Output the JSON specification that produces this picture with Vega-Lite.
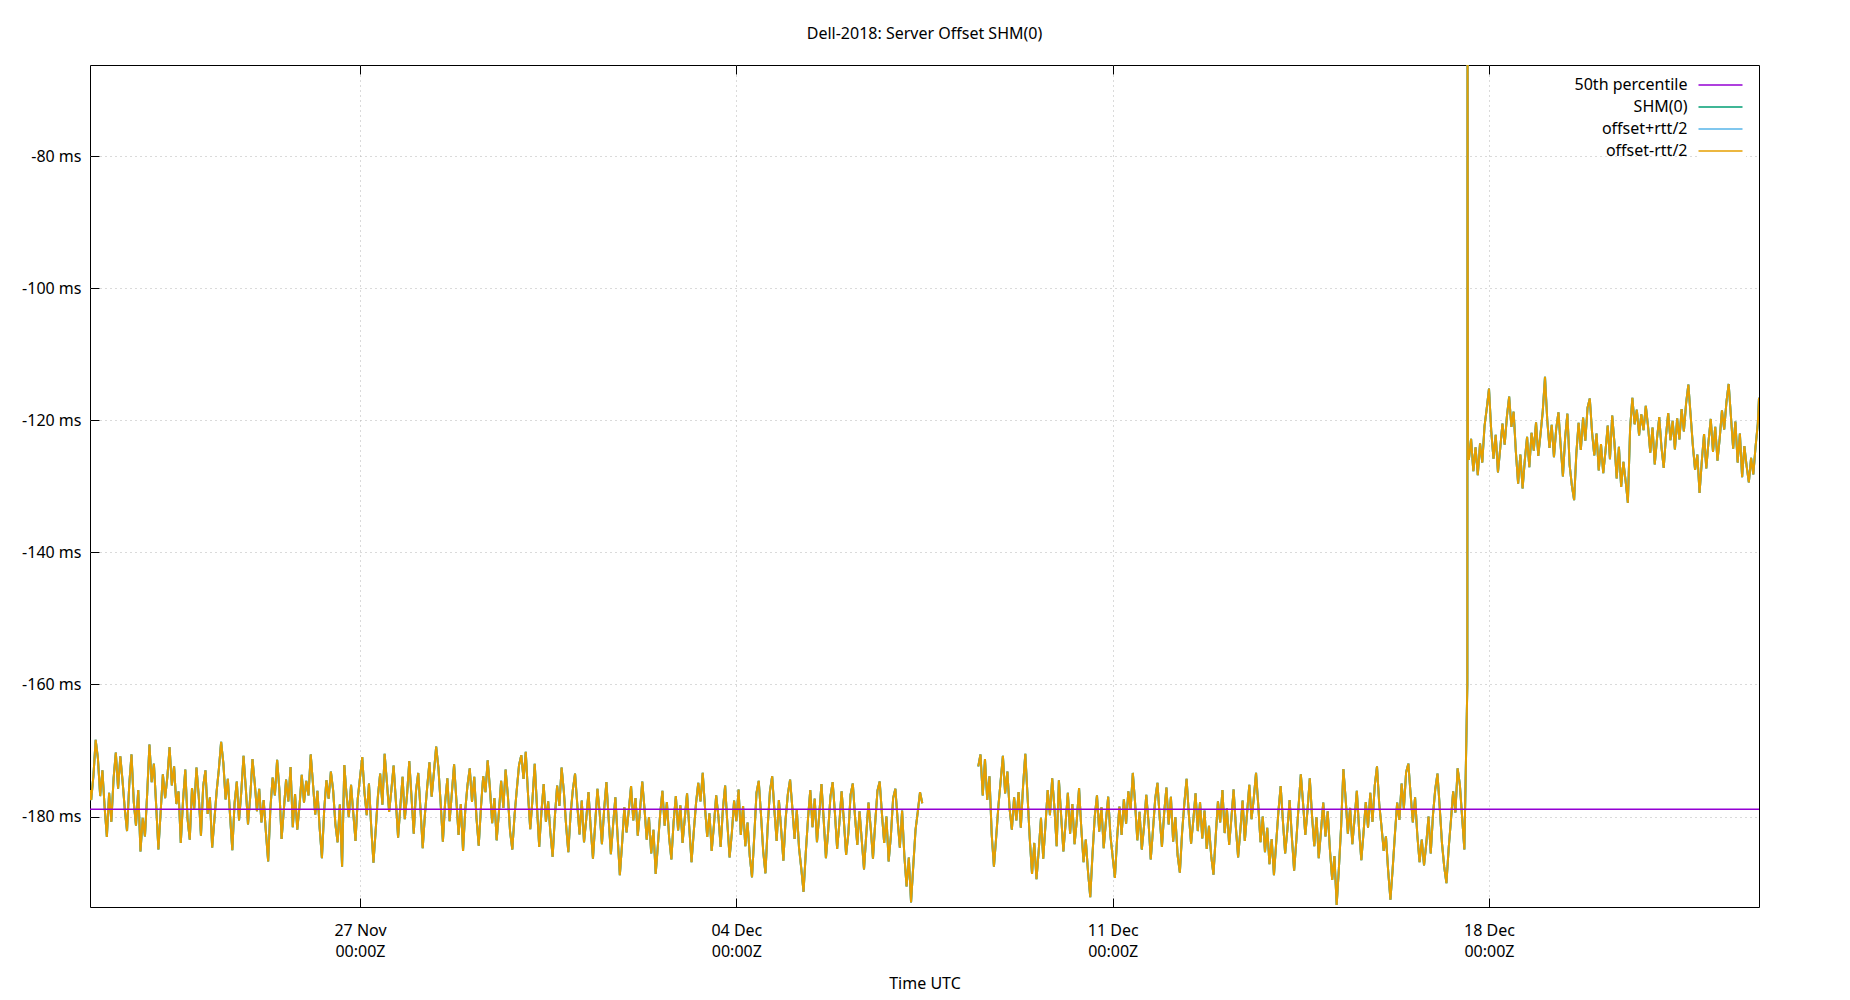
{
"$schema": "https://vega.github.io/schema/vega-lite/v6.json",
"width": 1669, "height": 842,
"autosize": "none",
"padding": {"left": 90, "top": 65, "right": 91, "bottom": 93},
"background": "white",
"title": {"text": "Dell-2018: Server Offset SHM(0)", "font": "Noto Sans", "fontSize": 16, "fontWeight": "normal", "color": "black", "anchor": "middle", "offset": 23},
"config": {
  "view": {"stroke": "black", "strokeWidth": 1},
  "font": "Noto Sans",
  "legend": {"orient": "none", "legendX": 1607, "legendY": 12, "symbolType": "M-4,0H4", "symbolSize": 121, "symbolOffset": 15.5, "symbolStrokeWidth": 1.5, "rowPadding": 6, "labelAlign": "right", "labelOffset": -41, "labelFont": "Noto Sans", "labelFontSize": 16, "labelColor": "black", "labelLimit": 0, "padding": 0, "fillColor": "white"}
},
"data": {"format": {"parse": {"t": "utc:'%y%m%d%H%M'"}}, "values": [
{"t":"1811212328","v":-176.0},
{"t":"1811220000","v":-177.5},{"t":"1811220100","v":-173.8},{"t":"1811220200","v":-168.4},{"t":"1811220300","v":-171.2},{"t":"1811220400","v":-176.9},{"t":"1811220500","v":-173.0},{"t":"1811220600","v":-178.6},{"t":"1811220700","v":-183.1},{"t":"1811220800","v":-176.4},{"t":"1811220900","v":-180.8},{"t":"1811221000","v":-174.2},{"t":"1811221100","v":-170.3},{"t":"1811221200","v":-175.8},{"t":"1811221300","v":-170.9},{"t":"1811221400","v":-174.6},{"t":"1811221500","v":-178.9},{"t":"1811221600","v":-182.2},{"t":"1811221700","v":-175.1},{"t":"1811221800","v":-170.6},{"t":"1811221900","v":-177.8},{"t":"1811222000","v":-181.4},{"t":"1811222100","v":-176.0},{"t":"1811222200","v":-185.3},{"t":"1811222300","v":-180.2},
{"t":"1811230000","v":-183.0},{"t":"1811230100","v":-176.5},{"t":"1811230200","v":-169.1},{"t":"1811230300","v":-174.8},{"t":"1811230400","v":-172.0},{"t":"1811230500","v":-178.3},{"t":"1811230600","v":-185.0},{"t":"1811230700","v":-179.4},{"t":"1811230800","v":-173.6},{"t":"1811230900","v":-177.2},{"t":"1811231000","v":-174.0},{"t":"1811231100","v":-169.5},{"t":"1811231200","v":-175.3},{"t":"1811231300","v":-172.4},{"t":"1811231400","v":-178.1},{"t":"1811231500","v":-176.2},{"t":"1811231600","v":-184.0},{"t":"1811231700","v":-177.6},{"t":"1811231800","v":-172.9},{"t":"1811231900","v":-180.3},{"t":"1811232000","v":-183.5},{"t":"1811232100","v":-175.7},{"t":"1811232200","v":-178.8},{"t":"1811232300","v":-172.6},
{"t":"1811240000","v":-176.9},{"t":"1811240100","v":-182.9},{"t":"1811240200","v":-175.4},{"t":"1811240300","v":-173.0},{"t":"1811240400","v":-179.6},{"t":"1811240500","v":-177.1},{"t":"1811240600","v":-184.7},{"t":"1811240700","v":-180.5},{"t":"1811240800","v":-176.2},{"t":"1811240900","v":-172.8},{"t":"1811241000","v":-168.7},{"t":"1811241100","v":-171.9},{"t":"1811241200","v":-177.4},{"t":"1811241300","v":-174.3},{"t":"1811241400","v":-179.9},{"t":"1811241500","v":-185.1},{"t":"1811241600","v":-178.0},{"t":"1811241700","v":-174.7},{"t":"1811241800","v":-180.6},{"t":"1811241900","v":-176.3},{"t":"1811242000","v":-170.8},{"t":"1811242100","v":-175.6},{"t":"1811242200","v":-181.2},{"t":"1811242300","v":-177.0},
{"t":"1811250000","v":-171.3},{"t":"1811250100","v":-174.9},{"t":"1811250200","v":-179.2},{"t":"1811250300","v":-175.8},{"t":"1811250400","v":-180.9},{"t":"1811250500","v":-177.5},{"t":"1811250600","v":-182.4},{"t":"1811250700","v":-186.8},{"t":"1811250800","v":-178.7},{"t":"1811250900","v":-174.1},{"t":"1811251000","v":-176.8},{"t":"1811251100","v":-171.4},{"t":"1811251200","v":-175.9},{"t":"1811251300","v":-183.4},{"t":"1811251400","v":-179.0},{"t":"1811251500","v":-174.4},{"t":"1811251600","v":-177.7},{"t":"1811251700","v":-172.5},{"t":"1811251800","v":-181.6},{"t":"1811251900","v":-176.6},{"t":"1811252000","v":-182.0},{"t":"1811252100","v":-178.4},{"t":"1811252200","v":-173.7},{"t":"1811252300","v":-177.9},
{"t":"1811260000","v":-174.6},{"t":"1811260100","v":-176.8},{"t":"1811260200","v":-170.6},{"t":"1811260300","v":-175.0},{"t":"1811260400","v":-179.7},{"t":"1811260500","v":-176.1},{"t":"1811260600","v":-181.8},{"t":"1811260700","v":-186.3},{"t":"1811260800","v":-179.1},{"t":"1811260900","v":-174.5},{"t":"1811261000","v":-177.3},{"t":"1811261100","v":-173.2},{"t":"1811261200","v":-176.0},{"t":"1811261300","v":-181.1},{"t":"1811261400","v":-183.9},{"t":"1811261500","v":-178.2},{"t":"1811261600","v":-187.6},{"t":"1811261700","v":-172.2},{"t":"1811261800","v":-176.7},{"t":"1811261900","v":-180.1},{"t":"1811262000","v":-175.2},{"t":"1811262100","v":-179.5},{"t":"1811262200","v":-183.7},{"t":"1811262300","v":-177.3},
{"t":"1811270000","v":-174.1},{"t":"1811270100","v":-171.0},{"t":"1811270200","v":-176.4},{"t":"1811270300","v":-179.8},{"t":"1811270400","v":-175.0},{"t":"1811270500","v":-181.5},{"t":"1811270600","v":-187.0},{"t":"1811270700","v":-182.1},{"t":"1811270800","v":-176.9},{"t":"1811270900","v":-173.5},{"t":"1811271000","v":-178.2},{"t":"1811271100","v":-170.5},{"t":"1811271200","v":-174.8},{"t":"1811271300","v":-179.3},{"t":"1811271400","v":-176.0},{"t":"1811271500","v":-172.3},{"t":"1811271600","v":-177.6},{"t":"1811271700","v":-183.2},{"t":"1811271800","v":-178.5},{"t":"1811271900","v":-174.0},{"t":"1811272000","v":-180.4},{"t":"1811272100","v":-176.7},{"t":"1811272200","v":-171.6},{"t":"1811272300","v":-177.1},
{"t":"1811280000","v":-182.6},{"t":"1811280100","v":-176.1},{"t":"1811280200","v":-173.4},{"t":"1811280300","v":-178.9},{"t":"1811280400","v":-184.8},{"t":"1811280500","v":-179.6},{"t":"1811280600","v":-175.5},{"t":"1811280700","v":-171.8},{"t":"1811280800","v":-177.0},{"t":"1811280900","v":-173.3},{"t":"1811281000","v":-169.4},{"t":"1811281100","v":-172.6},{"t":"1811281200","v":-178.0},{"t":"1811281300","v":-183.8},{"t":"1811281400","v":-177.9},{"t":"1811281500","v":-174.2},{"t":"1811281600","v":-180.7},{"t":"1811281700","v":-176.5},{"t":"1811281800","v":-172.1},{"t":"1811281900","v":-177.4},{"t":"1811282000","v":-182.8},{"t":"1811282100","v":-178.1},{"t":"1811282200","v":-185.2},{"t":"1811282300","v":-179.0},
{"t":"1811290000","v":-175.2},{"t":"1811290100","v":-172.7},{"t":"1811290200","v":-177.8},{"t":"1811290300","v":-174.0},{"t":"1811290400","v":-180.2},{"t":"1811290500","v":-184.4},{"t":"1811290600","v":-178.6},{"t":"1811290700","v":-173.9},{"t":"1811290800","v":-176.3},{"t":"1811290900","v":-171.5},{"t":"1811291000","v":-175.7},{"t":"1811291100","v":-181.0},{"t":"1811291200","v":-177.2},{"t":"1811291300","v":-183.6},{"t":"1811291400","v":-179.4},{"t":"1811291500","v":-174.6},{"t":"1811291600","v":-178.7},{"t":"1811291700","v":-172.9},{"t":"1811291800","v":-176.8},{"t":"1811291900","v":-182.3},{"t":"1811292000","v":-185.0},{"t":"1811292100","v":-179.8},{"t":"1811292200","v":-175.9},{"t":"1811292300","v":-172.2},
{"t":"1811300000","v":-170.7},{"t":"1811300100","v":-174.3},{"t":"1811300200","v":-170.2},{"t":"1811300300","v":-176.6},{"t":"1811300400","v":-181.9},{"t":"1811300500","v":-177.4},{"t":"1811300600","v":-172.0},{"t":"1811300700","v":-178.5},{"t":"1811300800","v":-184.6},{"t":"1811300900","v":-179.3},{"t":"1811301000","v":-175.1},{"t":"1811301100","v":-180.8},{"t":"1811301200","v":-177.7},{"t":"1811301300","v":-182.5},{"t":"1811301400","v":-186.1},{"t":"1811301500","v":-180.0},{"t":"1811301600","v":-175.3},{"t":"1811301700","v":-178.4},{"t":"1811301800","v":-172.6},{"t":"1811301900","v":-176.2},{"t":"1811302000","v":-181.3},{"t":"1811302100","v":-185.4},{"t":"1811302200","v":-179.7},{"t":"1811302300","v":-176.0},
{"t":"1812010000","v":-173.5},{"t":"1812010100","v":-178.2},{"t":"1812010200","v":-182.7},{"t":"1812010300","v":-177.6},{"t":"1812010400","v":-183.9},{"t":"1812010500","v":-180.4},{"t":"1812010600","v":-176.3},{"t":"1812010700","v":-181.8},{"t":"1812010800","v":-186.4},{"t":"1812010900","v":-181.0},{"t":"1812011000","v":-175.8},{"t":"1812011100","v":-179.5},{"t":"1812011200","v":-184.2},{"t":"1812011300","v":-178.9},{"t":"1812011400","v":-174.8},{"t":"1812011500","v":-180.3},{"t":"1812011600","v":-185.7},{"t":"1812011700","v":-181.2},{"t":"1812011800","v":-177.1},{"t":"1812011900","v":-183.0},{"t":"1812012000","v":-188.9},{"t":"1812012100","v":-184.1},{"t":"1812012200","v":-178.6},{"t":"1812012300","v":-182.4},
{"t":"1812020000","v":-179.0},{"t":"1812020100","v":-175.4},{"t":"1812020200","v":-180.6},{"t":"1812020300","v":-177.2},{"t":"1812020400","v":-182.9},{"t":"1812020500","v":-179.1},{"t":"1812020600","v":-174.7},{"t":"1812020700","v":-178.8},{"t":"1812020800","v":-183.5},{"t":"1812020900","v":-180.1},{"t":"1812021000","v":-185.6},{"t":"1812021100","v":-182.0},{"t":"1812021200","v":-188.7},{"t":"1812021300","v":-184.3},{"t":"1812021400","v":-179.6},{"t":"1812021500","v":-176.1},{"t":"1812021600","v":-181.4},{"t":"1812021700","v":-177.8},{"t":"1812021800","v":-183.2},{"t":"1812021900","v":-186.5},{"t":"1812022000","v":-180.8},{"t":"1812022100","v":-176.9},{"t":"1812022200","v":-182.1},{"t":"1812022300","v":-178.3},
{"t":"1812030000","v":-184.0},{"t":"1812030100","v":-180.2},{"t":"1812030200","v":-176.5},{"t":"1812030300","v":-181.7},{"t":"1812030400","v":-186.9},{"t":"1812030500","v":-182.3},{"t":"1812030600","v":-178.0},{"t":"1812030700","v":-174.9},{"t":"1812030800","v":-177.7},{"t":"1812030900","v":-173.4},{"t":"1812031000","v":-178.6},{"t":"1812031100","v":-183.1},{"t":"1812031200","v":-179.5},{"t":"1812031300","v":-185.2},{"t":"1812031400","v":-181.3},{"t":"1812031500","v":-176.8},{"t":"1812031600","v":-180.0},{"t":"1812031700","v":-184.6},{"t":"1812031800","v":-178.9},{"t":"1812031900","v":-175.3},{"t":"1812032000","v":-181.1},{"t":"1812032100","v":-186.2},{"t":"1812032200","v":-182.5},{"t":"1812032300","v":-177.6},
{"t":"1812040000","v":-180.7},{"t":"1812040100","v":-175.9},{"t":"1812040200","v":-182.8},{"t":"1812040300","v":-178.4},{"t":"1812040400","v":-184.5},{"t":"1812040500","v":-180.9},{"t":"1812040600","v":-186.0},{"t":"1812040700","v":-189.2},{"t":"1812040800","v":-183.0},{"t":"1812040900","v":-176.4},{"t":"1812041000","v":-174.6},{"t":"1812041100","v":-179.7},{"t":"1812041200","v":-185.3},{"t":"1812041300","v":-188.6},{"t":"1812041400","v":-181.5},{"t":"1812041500","v":-176.2},{"t":"1812041600","v":-173.9},{"t":"1812041700","v":-179.1},{"t":"1812041800","v":-183.7},{"t":"1812041900","v":-177.5},{"t":"1812042000","v":-181.9},{"t":"1812042100","v":-186.7},{"t":"1812042200","v":-180.4},{"t":"1812042300","v":-176.6},
{"t":"1812050000","v":-174.4},{"t":"1812050100","v":-178.7},{"t":"1812050200","v":-183.4},{"t":"1812050300","v":-179.0},{"t":"1812050400","v":-184.8},{"t":"1812050500","v":-187.9},{"t":"1812050600","v":-191.4},{"t":"1812050700","v":-185.5},{"t":"1812050800","v":-180.3},{"t":"1812050900","v":-176.0},{"t":"1812051000","v":-181.6},{"t":"1812051100","v":-177.3},{"t":"1812051200","v":-183.9},{"t":"1812051300","v":-179.8},{"t":"1812051400","v":-175.1},{"t":"1812051500","v":-180.5},{"t":"1812051600","v":-186.3},{"t":"1812051700","v":-182.2},{"t":"1812051800","v":-177.0},{"t":"1812051900","v":-174.8},{"t":"1812052000","v":-179.4},{"t":"1812052100","v":-184.9},{"t":"1812052200","v":-181.0},{"t":"1812052300","v":-176.2},
{"t":"1812060000","v":-180.6},{"t":"1812060100","v":-185.8},{"t":"1812060200","v":-182.6},{"t":"1812060300","v":-176.7},{"t":"1812060400","v":-175.0},{"t":"1812060500","v":-180.1},{"t":"1812060600","v":-184.3},{"t":"1812060700","v":-179.2},{"t":"1812060800","v":-183.6},{"t":"1812060900","v":-188.0},{"t":"1812061000","v":-182.7},{"t":"1812061100","v":-177.9},{"t":"1812061200","v":-181.8},{"t":"1812061300","v":-186.4},{"t":"1812061400","v":-180.9},{"t":"1812061500","v":-176.1},{"t":"1812061600","v":-174.7},{"t":"1812061700","v":-179.6},{"t":"1812061800","v":-184.0},{"t":"1812061900","v":-180.0},{"t":"1812062000","v":-186.8},{"t":"1812062100","v":-182.9},{"t":"1812062200","v":-177.2},{"t":"1812062300","v":-175.8},
{"t":"1812070000","v":-180.5},{"t":"1812070100","v":-184.7},{"t":"1812070200","v":-179.1},{"t":"1812070300","v":-185.9},{"t":"1812070400","v":-190.6},{"t":"1812070500","v":-186.2},{"t":"1812070600","v":-193.0},{"t":"1812070700","v":-187.4},{"t":"1812070800","v":-182.0},{"t":"1812070900","v":-179.3},{"t":"1812071000","v":-176.3},{"t":"1812071100","v":-178.0},
{"t":"1812072300","v":null},
{"t":"1812081200","v":-172.4},{"t":"1812081300","v":-170.6},{"t":"1812081400","v":-176.8},{"t":"1812081500","v":-171.3},{"t":"1812081600","v":-177.5},{"t":"1812081700","v":-173.9},{"t":"1812081800","v":-182.7},{"t":"1812081900","v":-187.6},{"t":"1812082000","v":-183.1},{"t":"1812082100","v":-178.4},{"t":"1812082200","v":-174.6},{"t":"1812082300","v":-170.8},
{"t":"1812090000","v":-176.5},{"t":"1812090100","v":-173.2},{"t":"1812090200","v":-178.9},{"t":"1812090300","v":-182.0},{"t":"1812090400","v":-177.1},{"t":"1812090500","v":-180.6},{"t":"1812090600","v":-176.3},{"t":"1812090700","v":-181.7},{"t":"1812090800","v":-175.4},{"t":"1812090900","v":-170.5},{"t":"1812091000","v":-176.9},{"t":"1812091100","v":-183.4},{"t":"1812091200","v":-188.7},{"t":"1812091300","v":-184.0},{"t":"1812091400","v":-189.5},{"t":"1812091500","v":-185.1},{"t":"1812091600","v":-180.2},{"t":"1812091700","v":-186.4},{"t":"1812091800","v":-181.3},{"t":"1812091900","v":-176.0},{"t":"1812092000","v":-179.8},{"t":"1812092100","v":-174.2},{"t":"1812092200","v":-178.7},{"t":"1812092300","v":-184.5},
{"t":"1812100000","v":-174.5},{"t":"1812100100","v":-179.9},{"t":"1812100200","v":-185.3},{"t":"1812100300","v":-181.0},{"t":"1812100400","v":-176.4},{"t":"1812100500","v":-182.6},{"t":"1812100600","v":-178.1},{"t":"1812100700","v":-184.2},{"t":"1812100800","v":-180.5},{"t":"1812100900","v":-175.7},{"t":"1812101000","v":-181.8},{"t":"1812101100","v":-186.9},{"t":"1812101200","v":-183.5},{"t":"1812101300","v":-188.4},{"t":"1812101400","v":-192.2},{"t":"1812101500","v":-185.7},{"t":"1812101600","v":-180.0},{"t":"1812101700","v":-176.8},{"t":"1812101800","v":-182.3},{"t":"1812101900","v":-178.6},{"t":"1812102000","v":-184.8},{"t":"1812102100","v":-180.7},{"t":"1812102200","v":-177.0},{"t":"1812102300","v":-182.9},
{"t":"1812110000","v":-186.1},{"t":"1812110100","v":-189.3},{"t":"1812110200","v":-183.2},{"t":"1812110300","v":-178.5},{"t":"1812110400","v":-182.8},{"t":"1812110500","v":-177.4},{"t":"1812110600","v":-181.1},{"t":"1812110700","v":-176.2},{"t":"1812110800","v":-179.0},{"t":"1812110900","v":-173.4},{"t":"1812111000","v":-177.9},{"t":"1812111100","v":-183.6},{"t":"1812111200","v":-179.3},{"t":"1812111300","v":-185.0},{"t":"1812111400","v":-181.5},{"t":"1812111500","v":-176.7},{"t":"1812111600","v":-180.8},{"t":"1812111700","v":-186.5},{"t":"1812111800","v":-182.0},{"t":"1812111900","v":-177.3},{"t":"1812112000","v":-174.9},{"t":"1812112100","v":-180.2},{"t":"1812112200","v":-184.6},{"t":"1812112300","v":-179.4},
{"t":"1812120000","v":-175.6},{"t":"1812120100","v":-181.2},{"t":"1812120200","v":-177.0},{"t":"1812120300","v":-183.8},{"t":"1812120400","v":-180.1},{"t":"1812120500","v":-185.9},{"t":"1812120600","v":-188.5},{"t":"1812120700","v":-182.4},{"t":"1812120800","v":-178.0},{"t":"1812120900","v":-174.3},{"t":"1812121000","v":-179.6},{"t":"1812121100","v":-184.1},{"t":"1812121200","v":-180.6},{"t":"1812121300","v":-176.5},{"t":"1812121400","v":-182.2},{"t":"1812121500","v":-177.8},{"t":"1812121600","v":-183.3},{"t":"1812121700","v":-179.1},{"t":"1812121800","v":-184.9},{"t":"1812121900","v":-181.4},{"t":"1812122000","v":-186.0},{"t":"1812122100","v":-188.8},{"t":"1812122200","v":-183.0},{"t":"1812122300","v":-177.7},
{"t":"1812130000","v":-180.9},{"t":"1812130100","v":-176.0},{"t":"1812130200","v":-182.5},{"t":"1812130300","v":-178.8},{"t":"1812130400","v":-184.3},{"t":"1812130500","v":-180.3},{"t":"1812130600","v":-175.9},{"t":"1812130700","v":-181.6},{"t":"1812130800","v":-186.2},{"t":"1812130900","v":-182.1},{"t":"1812131000","v":-177.6},{"t":"1812131100","v":-183.7},{"t":"1812131200","v":-179.5},{"t":"1812131300","v":-175.2},{"t":"1812131400","v":-180.4},{"t":"1812131500","v":-177.2},{"t":"1812131600","v":-173.4},{"t":"1812131700","v":-178.3},{"t":"1812131800","v":-183.9},{"t":"1812131900","v":-180.0},{"t":"1812132000","v":-185.4},{"t":"1812132100","v":-181.7},{"t":"1812132200","v":-187.2},{"t":"1812132300","v":-183.4},
{"t":"1812140000","v":-188.9},{"t":"1812140100","v":-184.0},{"t":"1812140200","v":-179.2},{"t":"1812140300","v":-175.4},{"t":"1812140400","v":-180.7},{"t":"1812140500","v":-185.6},{"t":"1812140600","v":-182.0},{"t":"1812140700","v":-177.5},{"t":"1812140800","v":-183.1},{"t":"1812140900","v":-188.2},{"t":"1812141000","v":-183.6},{"t":"1812141100","v":-178.4},{"t":"1812141200","v":-173.6},{"t":"1812141300","v":-178.0},{"t":"1812141400","v":-182.8},{"t":"1812141500","v":-179.0},{"t":"1812141600","v":-174.2},{"t":"1812141700","v":-179.9},{"t":"1812141800","v":-184.5},{"t":"1812141900","v":-180.1},{"t":"1812142000","v":-186.3},{"t":"1812142100","v":-182.2},{"t":"1812142200","v":-177.9},{"t":"1812142300","v":-183.0},
{"t":"1812150000","v":-179.2},{"t":"1812150100","v":-185.1},{"t":"1812150200","v":-189.6},{"t":"1812150300","v":-186.0},{"t":"1812150400","v":-193.4},{"t":"1812150500","v":-187.8},{"t":"1812150600","v":-181.4},{"t":"1812150700","v":-172.8},{"t":"1812150800","v":-177.3},{"t":"1812150900","v":-182.6},{"t":"1812151000","v":-178.7},{"t":"1812151100","v":-184.2},{"t":"1812151200","v":-180.3},{"t":"1812151300","v":-176.1},{"t":"1812151400","v":-181.9},{"t":"1812151500","v":-186.6},{"t":"1812151600","v":-182.4},{"t":"1812151700","v":-177.8},{"t":"1812151800","v":-181.7},{"t":"1812151900","v":-176.4},{"t":"1812152000","v":-180.8},{"t":"1812152100","v":-175.3},{"t":"1812152200","v":-172.4},{"t":"1812152300","v":-178.1},
{"t":"1812160000","v":-181.5},{"t":"1812160100","v":-185.2},{"t":"1812160200","v":-183.0},{"t":"1812160300","v":-188.3},{"t":"1812160400","v":-192.6},{"t":"1812160500","v":-187.9},{"t":"1812160600","v":-182.7},{"t":"1812160700","v":-177.9},{"t":"1812160800","v":-180.5},{"t":"1812160900","v":-175.0},{"t":"1812161000","v":-178.8},{"t":"1812161100","v":-173.3},{"t":"1812161200","v":-172.0},{"t":"1812161300","v":-176.6},{"t":"1812161400","v":-180.9},{"t":"1812161500","v":-177.1},{"t":"1812161600","v":-182.8},{"t":"1812161700","v":-186.9},{"t":"1812161800","v":-183.5},{"t":"1812161900","v":-187.4},{"t":"1812162000","v":-184.1},{"t":"1812162100","v":-180.0},{"t":"1812162200","v":-185.6},{"t":"1812162300","v":-179.7},
{"t":"1812170000","v":-175.9},{"t":"1812170100","v":-173.5},{"t":"1812170200","v":-178.6},{"t":"1812170300","v":-184.0},{"t":"1812170400","v":-187.6},{"t":"1812170500","v":-190.1},{"t":"1812170600","v":-184.8},{"t":"1812170700","v":-180.6},{"t":"1812170800","v":-176.2},{"t":"1812170900","v":-179.4},{"t":"1812171000","v":-172.7},{"t":"1812171100","v":-175.2},{"t":"1812171200","v":-180.1},{"t":"1812171300","v":-185.0},
{"t":"1812171420","v":-160.0},{"t":"1812171425","v":-40.0},{"t":"1812171435","v":-124.6},
{"t":"1812171500","v":-126.0},{"t":"1812171600","v":-122.8},{"t":"1812171700","v":-127.7},{"t":"1812171800","v":-124.1},{"t":"1812171900","v":-128.3},{"t":"1812172000","v":-123.5},{"t":"1812172100","v":-126.4},{"t":"1812172200","v":-120.9},{"t":"1812172300","v":-118.2},
{"t":"1812180000","v":-115.2},{"t":"1812180100","v":-121.6},{"t":"1812180200","v":-125.8},{"t":"1812180300","v":-122.2},{"t":"1812180400","v":-127.9},{"t":"1812180500","v":-124.3},{"t":"1812180600","v":-120.5},{"t":"1812180700","v":-123.7},{"t":"1812180800","v":-119.4},{"t":"1812180900","v":-116.4},{"t":"1812181000","v":-121.0},{"t":"1812181100","v":-118.7},{"t":"1812181200","v":-124.8},{"t":"1812181300","v":-129.6},{"t":"1812181400","v":-125.2},{"t":"1812181500","v":-130.3},{"t":"1812181600","v":-126.0},{"t":"1812181700","v":-122.5},{"t":"1812181800","v":-127.1},{"t":"1812181900","v":-121.9},{"t":"1812182000","v":-124.6},{"t":"1812182100","v":-120.3},{"t":"1812182200","v":-125.4},{"t":"1812182300","v":-122.1},
{"t":"1812190000","v":-118.6},{"t":"1812190100","v":-113.4},{"t":"1812190200","v":-119.9},{"t":"1812190300","v":-124.2},{"t":"1812190400","v":-120.7},{"t":"1812190500","v":-125.6},{"t":"1812190600","v":-121.3},{"t":"1812190700","v":-118.8},{"t":"1812190800","v":-123.9},{"t":"1812190900","v":-128.5},{"t":"1812191000","v":-122.6},{"t":"1812191100","v":-119.0},{"t":"1812191200","v":-126.8},{"t":"1812191300","v":-129.9},{"t":"1812191400","v":-132.1},{"t":"1812191500","v":-125.0},{"t":"1812191600","v":-120.4},{"t":"1812191700","v":-124.5},{"t":"1812191800","v":-119.6},{"t":"1812191900","v":-123.1},{"t":"1812192000","v":-118.1},{"t":"1812192100","v":-116.7},{"t":"1812192200","v":-121.8},{"t":"1812192300","v":-125.3},
{"t":"1812200000","v":-122.0},{"t":"1812200100","v":-127.6},{"t":"1812200200","v":-123.6},{"t":"1812200300","v":-128.0},{"t":"1812200400","v":-124.7},{"t":"1812200500","v":-120.8},{"t":"1812200600","v":-125.9},{"t":"1812200700","v":-119.3},{"t":"1812200800","v":-123.4},{"t":"1812200900","v":-128.8},{"t":"1812201000","v":-124.0},{"t":"1812201100","v":-130.1},{"t":"1812201200","v":-126.3},{"t":"1812201300","v":-129.2},{"t":"1812201400","v":-132.5},{"t":"1812201500","v":-121.2},{"t":"1812201600","v":-116.6},{"t":"1812201700","v":-120.6},{"t":"1812201800","v":-118.4},{"t":"1812201900","v":-122.3},{"t":"1812202000","v":-119.1},{"t":"1812202100","v":-121.5},{"t":"1812202200","v":-117.8},{"t":"1812202300","v":-120.9},
{"t":"1812210000","v":-124.9},{"t":"1812210100","v":-121.1},{"t":"1812210200","v":-126.7},{"t":"1812210300","v":-122.8},{"t":"1812210400","v":-119.5},{"t":"1812210500","v":-124.1},{"t":"1812210600","v":-127.2},{"t":"1812210700","v":-122.4},{"t":"1812210800","v":-118.9},{"t":"1812210900","v":-123.0},{"t":"1812211000","v":-120.1},{"t":"1812211100","v":-124.4},{"t":"1812211200","v":-119.7},{"t":"1812211300","v":-122.9},{"t":"1812211400","v":-118.3},{"t":"1812211500","v":-121.7},{"t":"1812211600","v":-117.4},{"t":"1812211700","v":-114.6},{"t":"1812211800","v":-119.2},{"t":"1812211900","v":-123.8},{"t":"1812212000","v":-127.5},{"t":"1812212100","v":-125.2},{"t":"1812212200","v":-131.0},{"t":"1812212300","v":-126.2},
{"t":"1812220000","v":-122.1},{"t":"1812220100","v":-127.3},{"t":"1812220200","v":-123.2},{"t":"1812220300","v":-119.8},{"t":"1812220400","v":-124.8},{"t":"1812220500","v":-121.0},{"t":"1812220600","v":-126.1},{"t":"1812220700","v":-122.7},{"t":"1812220800","v":-118.5},{"t":"1812220900","v":-121.4},{"t":"1812221000","v":-117.2},{"t":"1812221100","v":-114.5},{"t":"1812221200","v":-119.4},{"t":"1812221300","v":-124.3},{"t":"1812221400","v":-120.2},{"t":"1812221500","v":-126.4},{"t":"1812221600","v":-122.0},{"t":"1812221700","v":-128.6},{"t":"1812221800","v":-123.9},{"t":"1812221900","v":-126.9},{"t":"1812222000","v":-129.4},{"t":"1812222100","v":-125.7},{"t":"1812222200","v":-128.2},{"t":"1812222300","v":-124.0},
{"t":"1812230000","v":-120.5},{"t":"1812230032","v":-116.6}
]},
"encoding": {
  "y": {"field": "v", "type": "quantitative", "title": null,
        "scale": {"domain": [-193.7, -66.2], "nice": false, "zero": false},
        "axis": {"values": [-180, -160, -140, -120, -100, -80], "labelExpr": "datum.value + ' ms'", "labelFont": "Noto Sans", "labelFontSize": 16, "labelColor": "black", "labelPadding": 18, "tickSize": -9, "tickColor": "black", "domain": false, "grid": true, "gridColor": "#b4b4b4", "gridDash": [1, 4], "labelOverlap": false}}
},
"layer": [
  {"mark": {"type": "line", "strokeWidth": 2, "clip": true, "invalid": "break-paths-filter-domains"},
   "encoding": {
     "x": {"field": "t", "type": "temporal", "scale": {"type": "utc", "domain": [1542842880000, 1545525120000]},
           "axis": {"orient": "bottom", "values": [1543276800000, 1543881600000, 1544486400000, 1545091200000], "labelExpr": "[utcFormat(datum.value, '%d %b'), utcFormat(datum.value, '%H:%MZ')]", "labelFont": "Noto Sans", "labelFontSize": 16, "labelColor": "black", "labelLineHeight": 21, "labelPadding": 24, "tickSize": -9, "tickColor": "black", "domain": false, "grid": true, "gridColor": "#b4b4b4", "gridDash": [1, 4], "title": "Time UTC", "titleFont": "Noto Sans", "titleFontSize": 16, "titleFontWeight": "normal", "titleColor": "black", "titlePadding": 16, "labelFlush": false, "labelOverlap": false}},
     "color": {"datum": "SHM(0)", "title": null, "scale": {"domain": ["50th percentile", "SHM(0)", "offset+rtt/2", "offset-rtt/2"], "range": ["#9400d3", "#009e73", "#56b4e9", "#e69f00"]}}
   }},
  {"mark": {"type": "line", "strokeWidth": 2, "clip": true, "invalid": "break-paths-filter-domains"},
   "encoding": {
     "x": {"field": "t", "type": "temporal", "scale": {"type": "utc", "domain": [1542842880000, 1545525120000]},
           "axis": {"orient": "top", "values": [1543276800000, 1543881600000, 1544486400000, 1545091200000], "labels": false, "tickSize": -9, "tickColor": "black", "domain": false, "grid": false, "title": null}},
     "color": {"datum": "offset+rtt/2", "title": null, "scale": {"domain": ["50th percentile", "SHM(0)", "offset+rtt/2", "offset-rtt/2"], "range": ["#9400d3", "#009e73", "#56b4e9", "#e69f00"]}}
   }},
  {"mark": {"type": "line", "strokeWidth": 2, "clip": true, "invalid": "break-paths-filter-domains"},
   "encoding": {
     "x": {"field": "t", "type": "temporal", "scale": {"type": "utc", "domain": [1542842880000, 1545525120000]}, "axis": null},
     "color": {"datum": "offset-rtt/2", "title": null, "scale": {"domain": ["50th percentile", "SHM(0)", "offset+rtt/2", "offset-rtt/2"], "range": ["#9400d3", "#009e73", "#56b4e9", "#e69f00"]}}
   }},
  {"data": {"format": {"parse": {"t": "utc:'%y%m%d%H%M'"}}, "values": [{"t":"1811212328","v":-178.9},{"t":"1812230032","v":-178.9}]},
   "mark": {"type": "line", "strokeWidth": 1.3, "clip": true},
   "encoding": {
     "x": {"field": "t", "type": "temporal", "scale": {"type": "utc", "domain": [1542842880000, 1545525120000]}, "axis": null},
     "color": {"datum": "50th percentile", "title": null, "scale": {"domain": ["50th percentile", "SHM(0)", "offset+rtt/2", "offset-rtt/2"], "range": ["#9400d3", "#009e73", "#56b4e9", "#e69f00"]}}
   }}
],
"resolve": {"axis": {"x": "independent"}}
}
